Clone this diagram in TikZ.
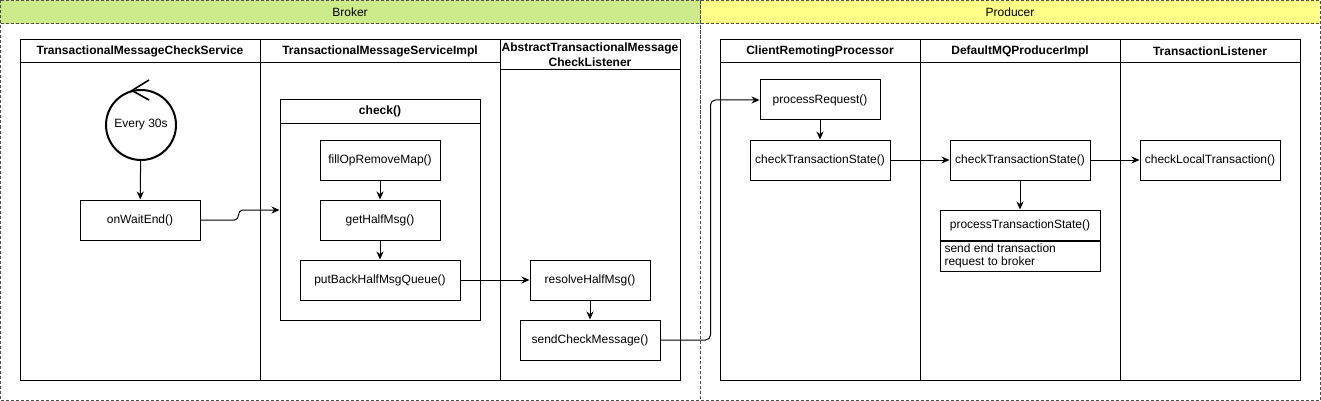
\documentclass[tikz,border=0pt]{standalone}
\usepackage{fontspec}
\setmainfont{Liberation Sans}
\usetikzlibrary{arrows.meta}
\definecolor{brokerhd}{HTML}{CDEB8B}
\definecolor{prodhd}{HTML}{FFFF88}
\tikzset{
  fn/.style={draw, fill=white, minimum height=40pt, inner sep=0pt, font=\fontsize{12}{14}\selectfont},
  lanehd/.style={font=\bfseries\fontsize{12}{14}\selectfont, inner sep=0pt},
  flow/.style={-{Stealth[length=8pt,width=7pt]}},
  zone/.style={draw=black!70, dash pattern=on 3pt off 2pt}
}
\begin{document}
\begin{tikzpicture}[x=1pt,y=-1pt,line width=1pt]
\useasboundingbox (0,0) rectangle (1321,401);
% zones
\fill[brokerhd] (0,0) rectangle (700,24);
\fill[prodhd] (700,0) rectangle (1320,24);
\draw[zone] (0.5,0.5) rectangle (700,400);
\draw[zone] (700,0.5) rectangle (1320,400);
\draw[zone] (0.5,24) -- (1320,24);
\node[font=\fontsize{12}{14}\selectfont] (broker) at (350,12) {Broker};
\node[font=\fontsize{12}{14}\selectfont] (producer) at (1010,12) {Producer};

% broker pool
\draw (20,40) rectangle (680,380);
\draw (20,63) -- (500,63);
\draw (500,70) -- (680,70);
\draw (260,40) -- (260,380);
\draw (500,40) -- (500,380);
\node[lanehd] (lane1) at (140,51.5) {TransactionalMessageCheckService};
\node[lanehd] (lane2) at (380,51.5) {TransactionalMessageServiceImpl};
\node[lanehd, align=center, font=\bfseries\fontsize{12}{15}\selectfont] (lane3) at (590,55) {AbstractTransactionalMessage\\CheckListener};

% producer pool
\draw (720,40) rectangle (1300,380);
\draw (720,63) -- (1300,63);
\draw (920,40) -- (920,380);
\draw (1120,40) -- (1120,380);
\node[lanehd] (lane4) at (820,51.5) {ClientRemotingProcessor};
\node[lanehd] (lane5) at (1020,51.5) {DefaultMQProducerImpl};
\node[lanehd] (lane6) at (1210,51.5) {TransactionListener};

% timer
\node[draw, circle, line width=2pt, minimum size=70pt, inner sep=0pt, font=\fontsize{12}{14}\selectfont] (timer) at (141,125) {Every 30s};
\draw[line width=1.6pt] (149,80) -- (132,90.5) -- (149,100);
\node[fn, minimum width=120pt] (wait) at (140,220) {onWaitEnd()};

% check() container
\node[draw, minimum width=200pt, minimum height=220pt, inner sep=0pt] (chk) at (380,210) {};
\draw (280,123) -- (480,123);
\node[lanehd] (chkhd) at (380,111.5) {check()};
\node[fn, minimum width=120pt] (fill) at (380,160) {fillOpRemoveMap()};
\node[fn, minimum width=120pt] (half) at (380,220) {getHalfMsg()};
\node[fn, minimum width=160pt] (putback) at (380,280) {putBackHalfMsgQueue()};
\node[fn, minimum width=120pt] (resolve) at (590,280) {resolveHalfMsg()};
\node[fn, minimum width=140pt] (sendchk) at (590,340) {sendCheckMessage()};

% producer side
\node[fn, minimum width=120pt] (procreq) at (820,100) {processRequest()};
\node[fn, minimum width=140pt] (cts1) at (820,160) {checkTransactionState()};
\node[fn, minimum width=140pt] (cts2) at (1020,160) {checkTransactionState()};
\node[fn, minimum width=140pt] (cltx) at (1210,160) {checkLocalTransaction()};
\node[fn, minimum width=160pt, minimum height=30pt] (pts) at (1020,225) {processTransactionState()};
\node[draw, minimum width=160pt, minimum height=30pt, inner sep=0pt, anchor=north] (ptsbody) at (pts.south) {};
\node[anchor=north west, align=left, inner sep=0pt, font=\fontsize{12}{13.5}\selectfont] (ptstxt) at (944,243) {send end transaction\\request to broker};

% connectors
\draw[flow] (timer) -- (wait);
\draw[flow] (wait.east) -- ++(34,0) .. controls +(6,0) and +(-6,0) .. ++(8,-10) -- (chk.west);
\draw[flow] (fill) -- (half);
\draw[flow] (half) -- (putback);
\draw[flow] (putback) -- (resolve);
\draw[flow] (resolve) -- (sendchk);
\draw[flow, rounded corners=5pt] (sendchk.east) -- ++(50,0) |- (procreq.west);
\draw[flow] (procreq) -- (cts1);
\draw[flow] (cts1) -- (cts2);
\draw[flow] (cts2) -- (cltx);
\draw[flow] (cts2) -- (pts);
\end{tikzpicture}
\end{document}
